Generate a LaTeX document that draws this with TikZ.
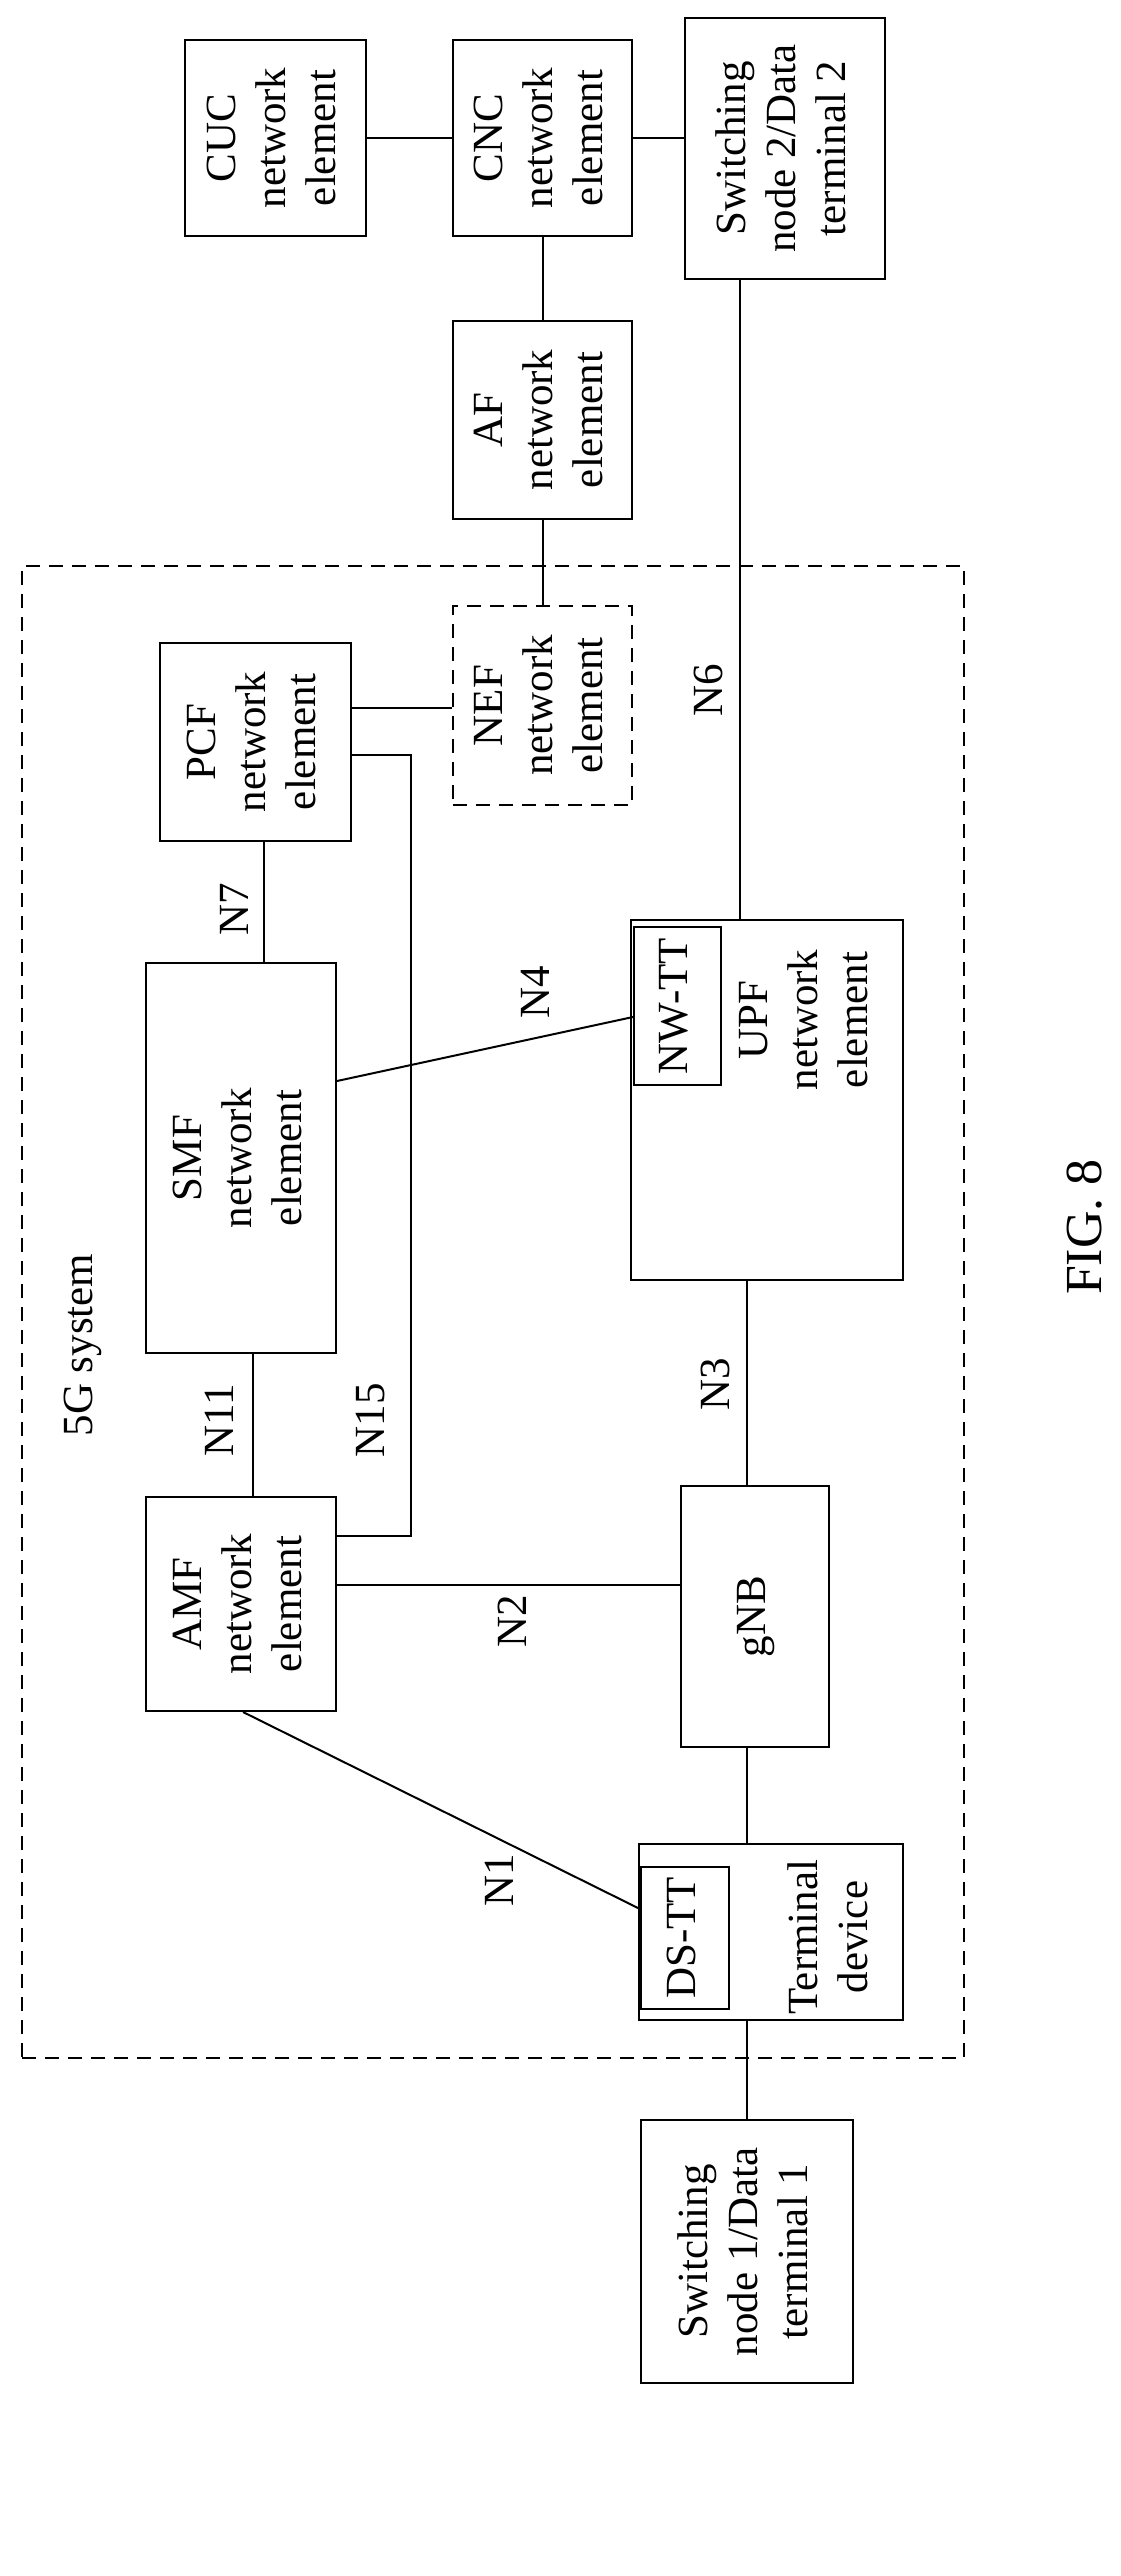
\documentclass[tikz,border=0pt]{standalone}
\usepackage{fontspec}
\setmainfont{Liberation Serif}
\usetikzlibrary{calc}
\newcommand\rt[1]{\rotatebox{90}{\begin{tabular}{@{}c@{}}#1\end{tabular}}}
\begin{document}
\begin{tikzpicture}[x=1pt,y=-1pt,line width=2pt,
  box/.style={draw,rectangle,inner sep=0pt,font=\fontsize{43}{50}\selectfont},
  lbl/.style={font=\fontsize{43}{50}\selectfont,inner sep=0pt}]
\useasboundingbox (0,0) rectangle (1121,2576);
\node[box,minimum width=181pt,minimum height=196pt] (cuc) at (275.5,138) {\rt{CUC\\network\\element}};
\node[box,minimum width=179pt,minimum height=196pt] (cnc) at (542.5,138) {\rt{CNC\\network\\element}};
\node[box,minimum width=200pt,minimum height=261pt] (sw2) at (785,148.5) {\rt{Switching\\node 2/Data\\terminal 2}};
\node[box,minimum width=179pt,minimum height=198pt] (af) at (542.5,420) {\rt{AF\\network\\element}};
\node[draw,dashed,dash pattern=on 14pt off 9pt,minimum width=942pt,minimum height=1492pt,inner sep=0pt] (sys) at (493,1312) {};
\node[box,minimum width=191pt,minimum height=198pt] (pcf) at (255.5,742) {\rt{PCF\\network\\element}};
\node[box,dashed,dash pattern=on 14pt off 9pt,minimum width=179pt,minimum height=199pt] (nef) at (542.5,705.5) {\rt{NEF\\network\\element}};
\node[box,minimum width=190pt,minimum height=390pt] (smf) at (241,1158) {\rt{SMF\\network\\element}};
\node[box,minimum width=272pt,minimum height=360pt] (upf) at (767,1100) {};
\node[box,minimum width=87pt,minimum height=158pt] (nwtt) at (677.5,1006) {\rt{NW-TT}};
\node[lbl] (upft) at (807,1020) {\rt{UPF\\network\\element}};
\node[box,minimum width=190pt,minimum height=214pt] (amf) at (241,1604) {\rt{AMF\\network\\element}};
\node[box,minimum width=148pt,minimum height=261pt] (gnb) at (755,1616.5) {\rt{gNB}};
\node[box,minimum width=264pt,minimum height=176pt] (term) at (771,1932) {};
\node[box,minimum width=88pt,minimum height=142pt] (dstt) at (685,1938) {\rt{DS-TT}};
\node[lbl] (termt) at (832,1937) {\rt{Terminal\\device}};
\node[box,minimum width=212pt,minimum height=263pt] (sw1) at (747,2251.5) {\rt{Switching\\node 1/Data\\terminal 1}};
% connectors
\draw (cuc.east) -- (cnc.west);
\draw (cnc.east) -- (cnc.east -| sw2.west);
\draw (cnc.south) -- (af.north);
\draw (af.south) -- (nef.north);
\draw ([xshift=-45pt]sw2.south) -- ([xshift=-27pt]upf.north);
\draw ([yshift=34pt]pcf.east) -- ([yshift=34pt]pcf.east -| nef.west);
\coordinate (k1) at (411,755);
\coordinate (k2) at (411,1536);
\draw ([yshift=-13pt]pcf.east) -- (k1) -- (k2) -- (k2 -| amf.east);
\draw ([xshift=8.5pt]pcf.south) -- ([xshift=8.5pt]pcf.south |- smf.north);
\draw ([yshift=77pt]smf.east) -- ([yshift=-11pt]nwtt.west);
\draw ([xshift=12pt]smf.south) -- ([xshift=12pt]amf.north);
\draw ([yshift=19pt]amf.east) -- ([yshift=19pt]amf.east -| gnb.west);
\draw ([xshift=-20pt]upf.south) -- ([xshift=-8pt]gnb.north);
\draw ([xshift=-8pt]gnb.south) -- ([xshift=-24pt]term.north);
\draw ([xshift=2pt]amf.south) -- ([yshift=24pt]term.west);
\draw ([xshift=-24pt]term.south) -- (sw1.north);
% labels
\node[lbl] (n6) at (708,690) {\rotatebox{90}{N6}};
\node[lbl] (n7) at (234,909) {\rotatebox{90}{N7}};
\node[lbl] (n4) at (535,992) {\rotatebox{90}{N4}};
\node[lbl] (n11) at (219,1420) {\rotatebox{90}{N11}};
\node[lbl] (n15) at (371,1420) {\rotatebox{90}{N15}};
\node[lbl] (n2) at (512,1621) {\rotatebox{90}{N2}};
\node[lbl] (n3) at (715,1384) {\rotatebox{90}{N3}};
\node[lbl] (n1) at (499,1880) {\rotatebox{90}{N1}};
\node[lbl] (sysl) at (83,1345) {\rotatebox{90}{5G system}};
\node[lbl,font=\fontsize{52}{60}\selectfont] (fig) at (1085,1227) {\rotatebox{90}{FIG. 8}};
\end{tikzpicture}
\end{document}
